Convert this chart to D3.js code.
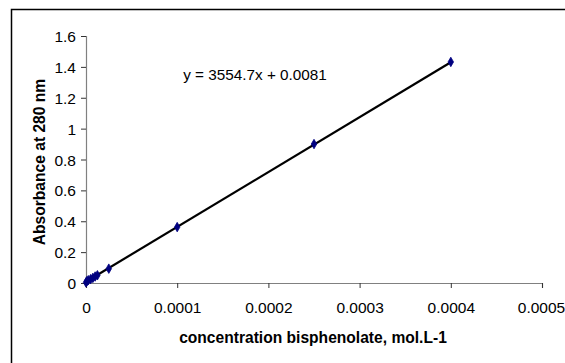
<!DOCTYPE html>
<html>
<head>
<meta charset="utf-8">
<script src="https://d3js.org/d3.v7.min.js"></script>
<style>
  body { margin: 0; background: #fff; }
  text { font-family: Arial, "Liberation Sans", sans-serif; }
</style>
</head>
<body>
<div class="chart"></div>
<script>
// data
const concentration = [0, 0.000001, 0.0000025, 0.000005, 0.0000075, 0.00001, 0.0000125, 0.000025, 0.0001, 0.00025, 0.0004];
const absorbance = [0.004, 0.012, 0.018, 0.025, 0.033, 0.042, 0.05, 0.093, 0.362, 0.9, 1.432];
const xTicks = [0, 0.0001, 0.0002, 0.0003, 0.0004, 0.0005];
const xTickLabels = ["0", "0.0001", "0.0002", "0.0003", "0.0004", "0.0005"];
const yTicks = [0, 0.2, 0.4, 0.6, 0.8, 1, 1.2, 1.4, 1.6];
const yTickLabels = ["0", "0.2", "0.4", "0.6", "0.8", "1", "1.2", "1.4", "1.6"];
const slope = 3554.7;
const intercept = 0.0081;
const equationLabel = "y = 3554.7x + 0.0081";

const width = 565, height = 363;
const plot = { left: 86, right: 542, top: 36, bottom: 283 };

const svg = d3.select(".chart").append("svg")
    .attr("width", width)
    .attr("height", height);

// outer frame (cut by the window on right and bottom)
svg.append("rect")
    .attr("x", 11.5).attr("y", 9.5)
    .attr("width", 600).attr("height", 400)
    .attr("fill", "none")
    .attr("stroke", "#000")
    .attr("stroke-width", 1.5);

const x = d3.scaleLinear().domain([0, 0.0005]).range([plot.left, plot.right]);
const y = d3.scaleLinear().domain([0, 1.6]).range([plot.bottom, plot.top]);

// axes
const xAxis = svg.append("g")
    .attr("transform", `translate(0,${plot.bottom})`)
    .call(d3.axisBottom(x).tickValues(xTicks).tickFormat((d, i) => xTickLabels[i]).tickSizeOuter(0).tickSize(5).tickPadding(14));

const yAxis = svg.append("g")
    .attr("transform", `translate(${plot.left},0)`)
    .call(d3.axisLeft(y).tickValues(yTicks).tickFormat((d, i) => yTickLabels[i]).tickSizeOuter(0).tickSize(5).tickPadding(5));

[xAxis, yAxis].forEach(g => {
    g.select(".domain").attr("stroke", "#808080").attr("stroke-width", 1.2);
    g.selectAll(".tick line").attr("stroke", "#333");
    g.selectAll(".tick text")
        .attr("fill", "#000")
        .style("font-size", "15.5px")
        .style("font-family", "Arial, 'Liberation Sans', sans-serif");
});
yAxis.selectAll(".tick text").attr("dy", "0.36em");

// last x label sits right against the window edge
xAxis.selectAll(".tick text").filter(d => d === xTicks[xTicks.length - 1])
    .attr("dx", "-1");

// trendline
const xExtent = d3.extent(concentration);
svg.append("line")
    .attr("x1", x(xExtent[0]))
    .attr("y1", y(slope * xExtent[0] + intercept))
    .attr("x2", x(xExtent[1]))
    .attr("y2", y(slope * xExtent[1] + intercept))
    .attr("stroke", "#000")
    .attr("stroke-width", 2.2);

// points
const diamond = d3.symbol().type(d3.symbolDiamond).size(26);
svg.append("g")
    .selectAll("path")
    .data(concentration)
    .enter().append("path")
    .attr("d", diamond)
    .attr("transform", (d, i) => `translate(${x(d)},${y(absorbance[i])})`)
    .attr("fill", "#000080")
    .attr("stroke", "#000080")
    .attr("stroke-width", 0.8);

// equation
svg.append("text")
    .attr("x", 255).attr("y", 80)
    .attr("text-anchor", "middle")
    .style("font-size", "15.3px")
    .text(equationLabel);

// axis titles
svg.append("text")
    .attr("x", 313).attr("y", 343)
    .attr("text-anchor", "middle")
    .style("font-size", "15.6px")
    .style("font-weight", "bold")
    .text("concentration bisphenolate, mol.L-1");

svg.append("text")
    .attr("transform", "translate(45,162) rotate(-90)")
    .attr("text-anchor", "middle")
    .style("font-size", "15.6px")
    .style("font-weight", "bold")
    .text("Absorbance at 280 nm");
</script>
</body>
</html>
